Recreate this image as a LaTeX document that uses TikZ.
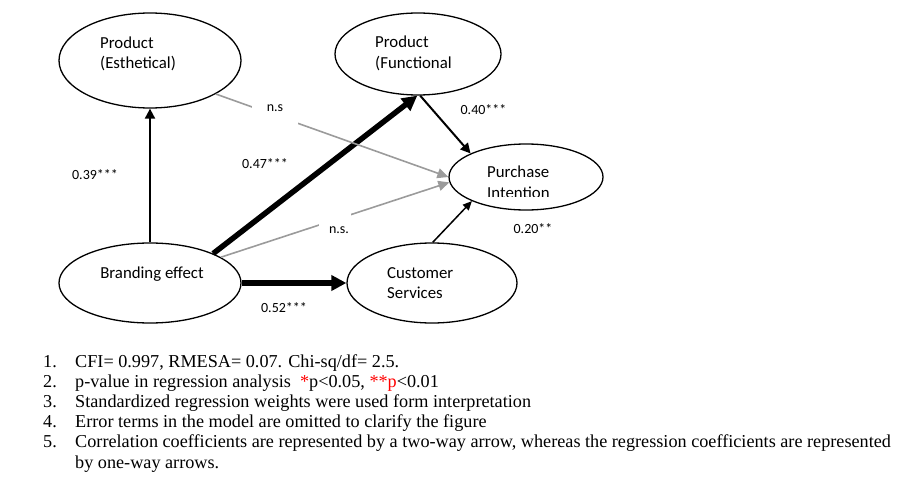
\documentclass[tikz,border=0pt]{standalone}
\usepackage{fontspec}
\setmainfont{Liberation Serif}
\newfontfamily\diagfont{Carlito}
\usetikzlibrary{shapes.geometric,arrows.meta}
\definecolor{lgray}{RGB}{155,155,155}
\begin{document}
\begin{tikzpicture}[x=1pt,y=-1pt,
  ell/.style={draw, ellipse, line width=1.3pt, inner sep=0pt},
  txt/.style={font=\diagfont\fontsize{16.8}{20}\selectfont, inner sep=0pt, anchor=base west},
  ctxt/.style={font=\diagfont\fontsize{16.8}{20}\selectfont, inner sep=0pt, anchor=base},
  lbl/.style={font=\diagfont\fontsize{14}{17}\selectfont, inner sep=0pt, anchor=base},
  note/.style={font=\fontsize{18.2}{21}\selectfont, inner sep=0pt, anchor=base west},
  arrA/.style={line width=2pt, -{Triangle[length=10pt,width=10pt]}},
  arrThick/.style={line width=5.5pt, -{Triangle[length=15pt,width=15pt]}},
  arrGray/.style={draw=lgray, line width=1.6pt, -{Triangle[length=11pt,width=10pt]}},
  arrThin/.style={line width=1.5pt, -{Triangle[length=9pt,width=8pt]}}
]
\useasboundingbox (0,0) rectangle (901,484);

% ellipses
\node[ell, minimum width=182pt, minimum height=95pt] (est) at (150,60.5) {};
\node[ell, minimum width=166pt, minimum height=82pt] (fun) at (418,54) {};
\node[ell, minimum width=154pt, minimum height=66pt] (pi) at (526,177) {};
\node[ell, minimum width=182pt, minimum height=80pt] (br) at (150,283) {};
\node[ell, minimum width=170pt, minimum height=80pt] (cs) at (432,283) {};

% ellipse texts
\node[txt] (estA) at (100,48.3) {Product};
\node[txt] (estB) at (100,69) {(Esthetical)};
\node[txt] (funA) at (375,48) {Product};
\begin{scope}
  \clip (370,50) rectangle (450.5,80);
  \node[txt] (funB) at (375,69) {(Functional)};
\end{scope}
\node[txt] (piA) at (487,177.7) {Purchase};
\begin{scope}
  \clip (480,180) rectangle (570,196);
  \node[txt] (piB) at (487,198.7) {Intention};
\end{scope}
\node[ctxt] (brA) at (152,278.3) {Branding effect};
\node[txt] (csA) at (387,278.3) {Customer};
\node[txt] (csB) at (387,298.3) {Services};

% connectors
\draw[arrA] (br.north) -- (est.south);
\draw[arrThick] (br.25.5) -- (fun.-91);
\draw[arrThick] (br.east) -- (cs.west);
\draw[arrGray] (est.-27) -- (pi.180);
\draw[arrGray] (br.20) -- (pi.184);
\draw[arrA] (fun.-87) -- (pi.157);
\draw[arrThin] (cs.89) -- (pi.204);

% labels
\node[lbl] (l39) at (95,179) {0.39***};
\node[lbl] (l47) at (265,168) {0.47***};
\node[lbl] (l52) at (284,312) {0.52***};
\node[lbl] (l40) at (483.5,114) {0.40***};
\node[lbl] (l20) at (533,233) {0.20**};
\node[lbl, fill=white, minimum width=46pt, text height=12pt, text depth=14pt, inner ysep=2pt] (ns1) at (275,112) {n.s};
\node[lbl, fill=white, text width=28pt, align=right, inner xsep=2pt, text height=25pt, text depth=3pt, inner ysep=2pt] (ns2) at (335,233) {n.s.};

% notes
\node[note] (n1) at (43,367) {1.};
\node[note] (t1) at (75,367) {CFI= 0.997, RMESA= 0.07. Chi-sq/df= 2.5.};
\node[note] (n2) at (43,387.2) {2.};
\node[note] (t2) at (75,387.2) {p-value in regression analysis~~{\color{red}*}p<0.05, {\color{red}**p}<0.01};
\node[note] (n3) at (43,407.4) {3.};
\node[note] (t3) at (75,407.4) {Standardized regression weights were used form interpretation};
\node[note] (n4) at (43,427.6) {4.};
\node[note] (t4) at (75,427.6) {Error terms in the model are omitted to clarify the figure};
\node[note] (n5) at (43,447.8) {5.};
\node[note] (t5) at (75,447.8) {Correlation coefficients are represented by a two-way arrow, whereas the regression coefficients are represented};
\node[note] (t6) at (75,468) {by one-way arrows.};
\end{tikzpicture}
\end{document}
